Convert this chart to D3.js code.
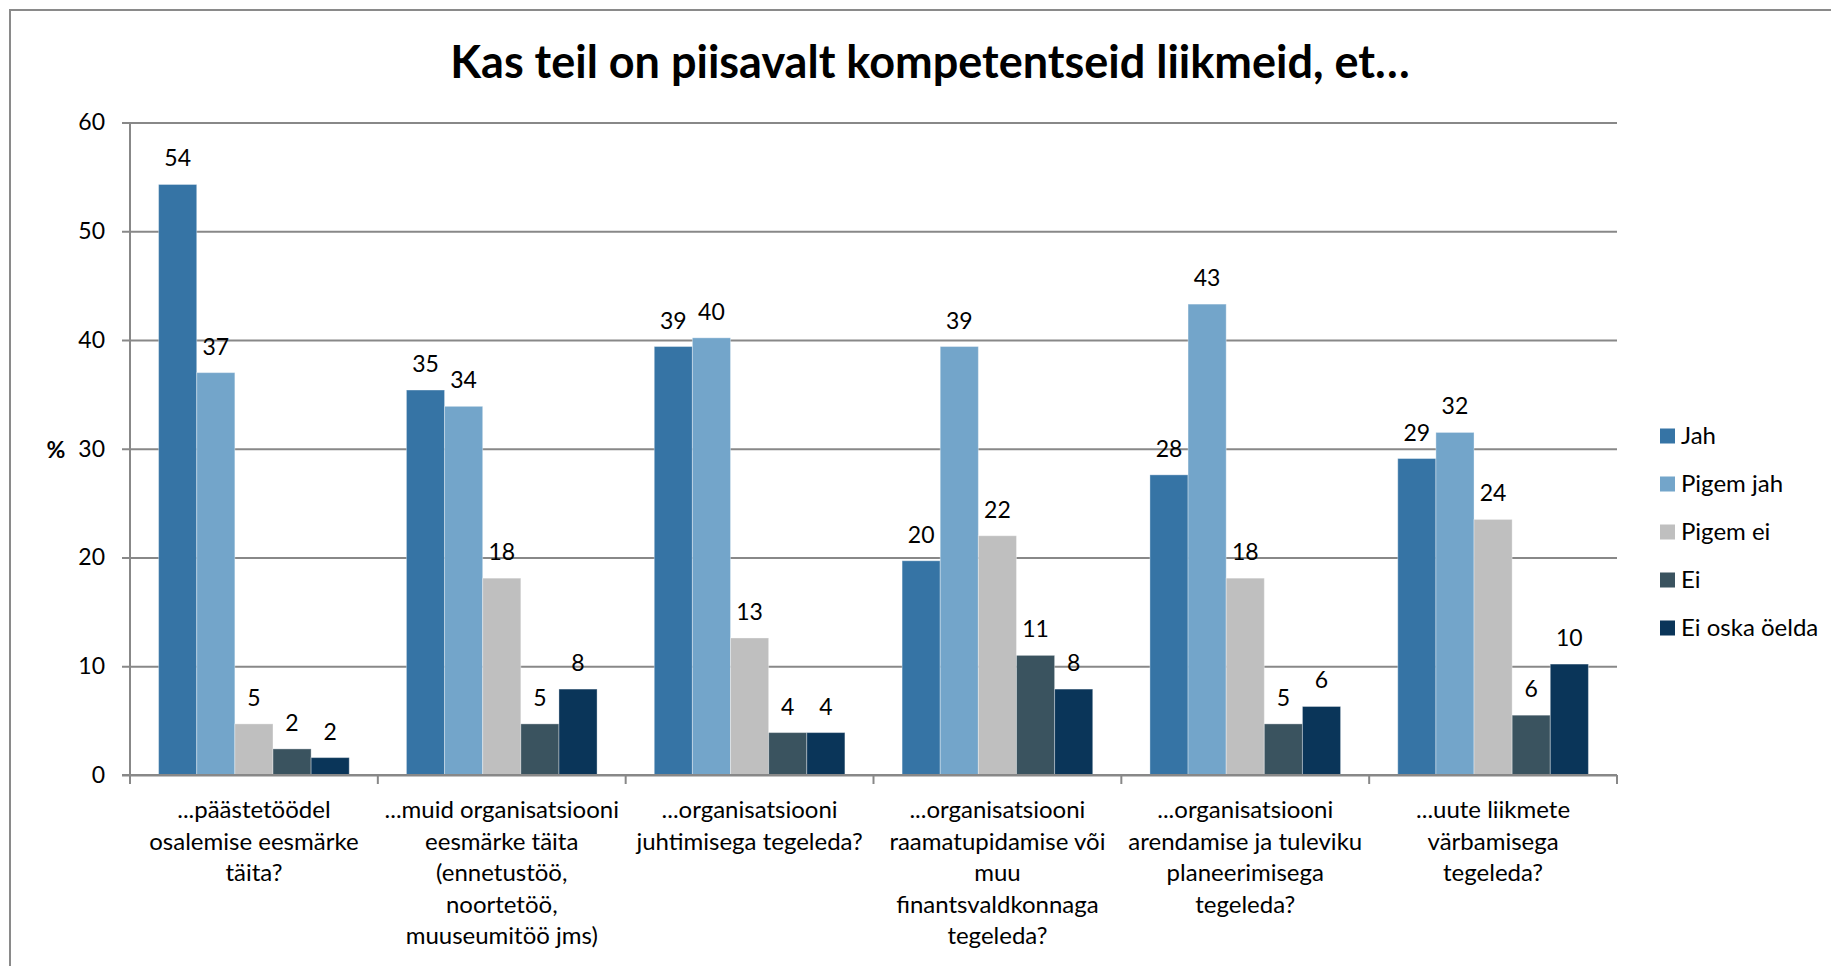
<!DOCTYPE html>
<html>
<head>
<meta charset="utf-8">
<script src="https://cdnjs.cloudflare.com/ajax/libs/d3/7.8.5/d3.min.js"></script>
<style>
	body { margin: 0; background: #fff; }
	text { font-family: Lato, "Open Sans", sans-serif; fill: #000; }
</style>
</head>
<body>
<div id="chart"></div>
<script>
const title = "Kas teil on piisavalt kompetentseid liikmeid, et…";
const series = ["Jah", "Pigem jah", "Pigem ei", "Ei", "Ei oska öelda"];
const colors = ["#3674a5", "#73a5ca", "#bfbfbf", "#3a535f", "#0a3559"];
const categories = [
	["...päästetöödel", "osalemise eesmärke", "täita?"],
	["...muid organisatsiooni", "eesmärke täita", "(ennetustöö,", "noortetöö,", "muuseumitöö jms)"],
	["...organisatsiooni", "juhtimisega tegeleda?"],
	["...organisatsiooni", "raamatupidamise või", "muu", "finantsvaldkonnaga", "tegeleda?"],
	["...organisatsiooni", "arendamise ja tuleviku", "planeerimisega", "tegeleda?"],
	["...uute liikmete", "värbamisega", "tegeleda?"]
];
// one array per series, one value per category
const jah = [54.3, 35.4, 39.4, 19.7, 27.6, 29.1];
const pigemJah = [37.0, 33.9, 40.2, 39.4, 43.3, 31.5];
const pigemEi = [4.7, 18.1, 12.6, 22.0, 18.1, 23.5];
const ei = [2.4, 4.7, 3.9, 11.0, 4.7, 5.5];
const eiOska = [1.6, 7.9, 3.9, 7.9, 6.3, 10.2];
const yTicks = [0, 10, 20, 30, 40, 50, 60];

const values = [jah, pigemJah, pigemEi, ei, eiOska];

const W = 1831, H = 966;
const plot = {left: 130, right: 1617, top: 122.5, bottom: 775};

const svg = d3.select('#chart')
	.append('svg')
	.attr('width', W)
	.attr('height', H);

// outer chart frame (runs off the right and bottom edge)
svg.append('rect')
	.attr('x', 10)
	.attr('y', 10)
	.attr('width', W + 50)
	.attr('height', H + 50)
	.attr('fill', 'none')
	.attr('stroke', '#8a8a8a')
	.attr('stroke-width', 2);

svg.append('text')
	.attr('x', 930)
	.attr('y', 78)
	.attr('text-anchor', 'middle')
	.style('font-weight', 'bold')
	.style('font-size', '45px')
	.text(title);

const y = d3.scaleLinear()
	.domain([0, 60])
	.range([plot.bottom, plot.top]);

const x0 = d3.scaleBand()
	.domain(d3.range(categories.length))
	.range([plot.left, plot.right]);

const x1 = d3.scaleBand()
	.domain(series)
	.range([0, x0.bandwidth()])
	.paddingOuter(0.75);

// gridlines + y axis
const yAxis = d3.axisLeft(y)
	.tickValues(yTicks)
	.tickSize(-(plot.right - plot.left))
	.tickPadding(25);

const gy = svg.append('g')
	.attr('transform', `translate(${plot.left},0)`)
	.call(yAxis);
gy.select('.domain').remove();
gy.selectAll('.tick line')
	.attr('x1', -8)
	.attr('stroke', '#888')
	.attr('stroke-width', 2);
gy.selectAll('.tick text')
	.style('font-family', 'Lato, sans-serif')
	.style('font-size', '23px')
	.attr('fill', '#000');

svg.append('line')
	.attr('x1', plot.left).attr('x2', plot.left)
	.attr('y1', plot.top).attr('y2', plot.bottom + 1)
	.attr('stroke', '#888')
	.attr('stroke-width', 2);

svg.append('text')
	.attr('x', 56)
	.attr('y', 458)
	.attr('text-anchor', 'middle')
	.style('font-weight', 'bold')
	.style('font-size', '23px')
	.text('%');

// bars
const groups = svg.selectAll('.group')
	.data(categories)
	.enter()
	.append('g')
	.attr('class', 'group')
	.attr('transform', (d, i) => `translate(${x0(i)},0)`);

groups.selectAll('rect')
	.data((d, i) => series.map((s, j) => ({s: s, v: values[j][i], c: colors[j]})))
	.enter()
	.append('rect')
	.attr('x', d => x1(d.s))
	.attr('y', d => y(d.v))
	.attr('width', x1.bandwidth())
	.attr('height', d => y(0) - y(d.v))
	.attr('fill', d => d.c)
	.attr('stroke', 'rgba(255,255,255,0.35)')
	.attr('stroke-width', 1);

groups.selectAll('.lbl')
	.data((d, i) => series.map((s, j) => ({s: s, v: values[j][i]})))
	.enter()
	.append('text')
	.attr('class', 'lbl')
	.attr('x', d => x1(d.s) + x1.bandwidth() / 2)
	.attr('y', d => y(d.v) - 18)
	.attr('text-anchor', 'middle')
	.style('font-size', '23px')
	.text(d => Math.round(d.v));

// x axis line with category separators
const xAxis = svg.append('g');
xAxis.append('line')
	.attr('x1', plot.left - 8).attr('x2', plot.right)
	.attr('y1', plot.bottom).attr('y2', plot.bottom)
	.attr('stroke', '#888')
	.attr('stroke-width', 2);
xAxis.selectAll('.sep')
	.data(d3.range(categories.length + 1))
	.enter()
	.append('line')
	.attr('x1', i => i < categories.length ? x0(i) : plot.right)
	.attr('x2', i => i < categories.length ? x0(i) : plot.right)
	.attr('y1', plot.bottom)
	.attr('y2', plot.bottom + 9)
	.attr('stroke', '#888')
	.attr('stroke-width', 2);

groups.append('text')
	.attr('x', x0.bandwidth() / 2)
	.attr('y', 818)
	.attr('text-anchor', 'middle')
	.style('font-size', '24px')
	.selectAll('tspan')
	.data(d => d)
	.enter()
	.append('tspan')
	.attr('x', x0.bandwidth() / 2)
	.attr('dy', (d, i) => i == 0 ? 0 : 31.5)
	.text(d => d);

// legend
const legend = svg.selectAll('.legend')
	.data(series)
	.enter()
	.append('g')
	.attr('class', 'legend')
	.attr('transform', (d, i) => `translate(1660,${428.5 + i * 48})`);

legend.append('rect')
	.attr('width', 15)
	.attr('height', 15)
	.attr('fill', (d, i) => colors[i]);

legend.append('text')
	.attr('x', 21)
	.attr('y', 15)
	.style('font-size', '24px')
	.text(d => d);
</script>
</body>
</html>
